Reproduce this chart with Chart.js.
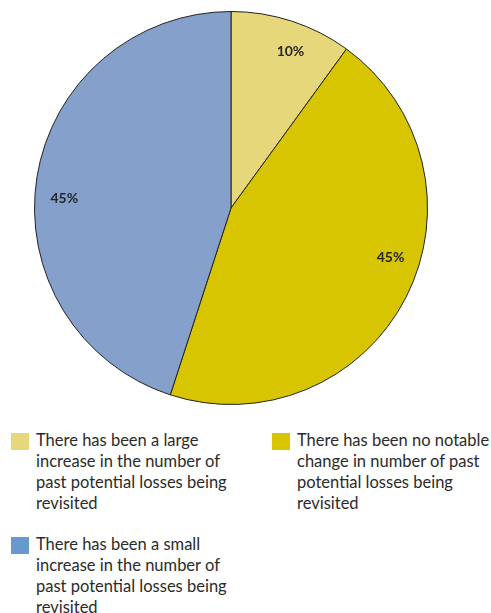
<!DOCTYPE html>
<html>
<head>
<meta charset="utf-8">
<script src="https://cdn.jsdelivr.net/npm/chart.js@4"></script>
<style>
  body { margin: 0; background: #fff; font-family: Lato, "Open Sans", sans-serif; }
  #wrap { position: relative; width: 491px; height: 613px; }
  #chartBox { position: absolute; left: 0; top: 0; width: 462px; height: 416px; }
  .item { position: absolute; display: flex; color: #2b2b2b; font-size: 16.5px; line-height: 21px; }
  .swatch { width: 18px; height: 17px; margin: 3px 7px 0 0; flex: none; }
</style>
</head>
<body>
<div id="wrap">
  <div id="chartBox"><canvas id="pieChart"></canvas></div>
  <div id="legend"></div>
</div>
<script>
// Share of respondents per answer
const labels = [
  ["There has been a large", "increase in the number of", "past potential losses being", "revisited"],
  ["There has been no notable", "change in number of past", "potential losses being", "revisited"],
  ["There has been a small", "increase in the number of", "past potential losses being", "revisited"],
];
const values = [10, 45, 45];
const sliceColors = ["#e6d87a", "#d6c500", "#84a0cb"];
const legendColors = ["#e6d87a", "#d6c500", "#6699cc"];

// where each legend entry sits under the pie
const legendSpots = [
  { left: 11, top: 430 },
  { left: 272, top: 430 },
  { left: 11, top: 534 },
];

// percentage text inside each slice
const sliceLabels = {
  id: "sliceLabels",
  afterDatasetsDraw(chart, args, opts) {
    const { ctx } = chart;
    const meta = chart.getDatasetMeta(0);
    ctx.save();
    ctx.font = "bold 14px Lato, sans-serif";
    ctx.fillStyle = "#262626";
    ctx.textAlign = "center";
    ctx.textBaseline = "middle";
    meta.data.forEach((arc, i) => {
      const p = arc.getProps(["x", "y", "startAngle", "endAngle", "outerRadius"], true);
      const mid = (p.startAngle + p.endAngle) / 2 + (opts.shift[i] || 0);
      const r = p.outerRadius * opts.radial;
      ctx.fillText(values[i] + "%", p.x + Math.cos(mid) * r, p.y + Math.sin(mid) * r);
    });
    ctx.restore();
  },
};

new Chart(document.getElementById("pieChart"), {
  type: "pie",
  data: {
    labels,
    datasets: [{
      data: values,
      backgroundColor: sliceColors,
      borderColor: "#222",
      borderWidth: 1,
    }],
  },
  options: {
    responsive: true,
    maintainAspectRatio: false,
    animation: false,
    layout: { padding: 11 },
    plugins: {
      legend: { display: false },
      tooltip: { enabled: false },
      sliceLabels: { radial: 0.85, shift: [0.05, -0.17, -0.1] },
    },
  },
  plugins: [sliceLabels],
});

// legend drawn as html, two columns
const legend = document.getElementById("legend");
labels.forEach((lines, i) => {
  const item = document.createElement("div");
  item.className = "item";
  item.style.left = legendSpots[i].left + "px";
  item.style.top = legendSpots[i].top + "px";
  item.innerHTML = `<span class="swatch" style="background:${legendColors[i]}"></span><span>${lines.join("<br>")}</span>`;
  legend.appendChild(item);
});
</script>
</body>
</html>
